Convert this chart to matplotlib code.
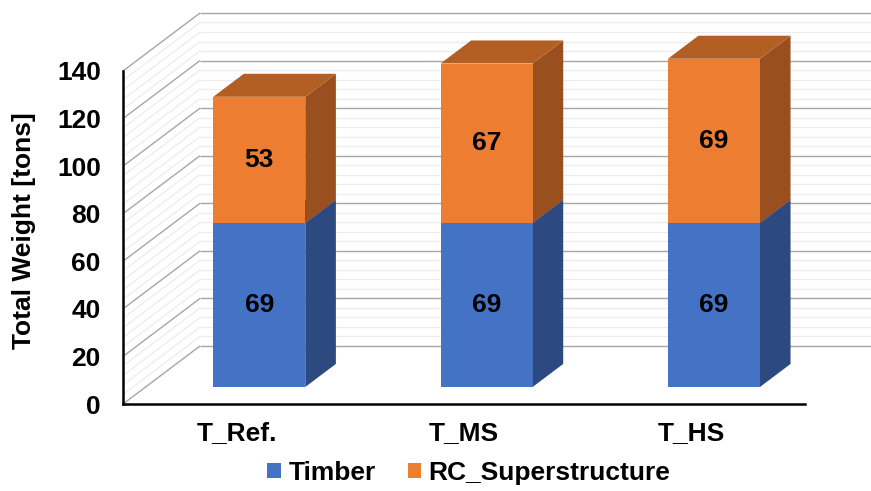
import matplotlib.pyplot as plt
from matplotlib.patches import Polygon, Patch

plt.rcParams['font.family'] = ['Liberation Sans', 'DejaVu Sans']
plt.rcParams['font.weight'] = 'bold'

# data
categories = ['T_Ref.', 'T_MS', 'T_HS']
timber = [69, 69, 69]
rc_super = [53, 67, 69]
series_names = ['Timber', 'RC_Superstructure']
y_ticks = [0, 20, 40, 60, 80, 100, 120, 140]

# colours (front, side, top)
blue = ('#4472C4', '#2C4A80', '#34589A')
orange = ('#ED7D31', '#9A4F1E', '#B35F24')

# oblique 3d look: full depth offset in data units
DX = 0.339   # category units
DY = 24.4    # value units
F0, F1 = 0.293, 0.69   # bar front/back depth fractions
BW = 0.405
YMAX = 140
FS = 19

fig = plt.figure(figsize=(8.71, 4.91), dpi=100)
ax = fig.add_axes([123 / 871, 87 / 491, 682 / 871, 333 / 491])
ax.set_xlim(0, 3)
ax.set_ylim(0, YMAX)


def line(xs, ys, **kw):
    ax.plot(xs, ys, clip_on=False, solid_capstyle='butt', **kw)


# walls: minor then major grid lines (side wall + back wall)
for v in range(0, YMAX + 1, 4):
    major = v in y_ticks
    col = '#A6A6A6' if major else '#ECECEC'
    lw = 1.0 if major else 0.9
    z = 2 if major else 1
    line([0, DX], [v, v + DY], color=col, lw=lw, zorder=z)
    line([DX, 3.3 + DX], [v + DY, v + DY], color=col, lw=lw, zorder=z)


def box(x, y0, y1, cols, z):
    xl = x - BW / 2 + F0 * DX
    xr = x + BW / 2 + F0 * DX
    b0 = y0 + F0 * DY
    t0 = y1 + F0 * DY
    ddx = (F1 - F0) * DX
    ddy = (F1 - F0) * DY
    front = [(xl, b0), (xr, b0), (xr, t0), (xl, t0)]
    side = [(xr, b0), (xr + ddx, b0 + ddy), (xr + ddx, t0 + ddy), (xr, t0)]
    top = [(xl, t0), (xr, t0), (xr + ddx, t0 + ddy), (xl + ddx, t0 + ddy)]
    for pts, c in ((side, cols[1]), (top, cols[2]), (front, cols[0])):
        ax.add_patch(Polygon(pts, closed=True, facecolor=c, edgecolor='none',
                             clip_on=False, zorder=z))


for i in range(len(categories)):
    x = i + 0.5
    box(x, 0, timber[i], blue, 5 + i * 2)
    box(x, timber[i], timber[i] + rc_super[i], orange, 6 + i * 2)
    ax.text(x + F0 * DX, timber[i] / 2 + F0 * DY, str(timber[i]),
            ha='center', va='center', fontsize=FS, fontweight='bold', zorder=20)
    ax.text(x + F0 * DX, timber[i] + rc_super[i] / 2 + F0 * DY, str(rc_super[i]),
            ha='center', va='center', fontsize=FS, fontweight='bold', zorder=20)

# axes
for s in ['top', 'right']:
    ax.spines[s].set_visible(False)
for s in ['left', 'bottom']:
    ax.spines[s].set_linewidth(1.8)
    ax.spines[s].set_color('black')
    ax.spines[s].set_zorder(30)
ax.patch.set_visible(False)
ax.set_yticks(y_ticks)
ax.set_yticklabels([str(t) for t in y_ticks], fontsize=FS, fontweight='bold')
ax.set_xticks([0.5, 1.5, 2.5])
ax.set_xticklabels(categories, fontsize=FS, fontweight='bold')
ax.tick_params(axis='y', length=0, pad=16)
ax.tick_params(axis='x', length=0, pad=12)
ax.set_ylabel('Total Weight [tons]', fontsize=FS, fontweight='bold')
ax.yaxis.set_label_coords(-0.127, 0.52)

handles = [Patch(facecolor=blue[0]), Patch(facecolor=orange[0])]
fig.legend(handles, series_names, loc='center', bbox_to_anchor=(469 / 871, 1 - 473 / 491),
           ncol=2, frameon=False, fontsize=FS, handlelength=0.5, handleheight=0.5,
           handletextpad=0.3, columnspacing=1.2, borderpad=0)

fig.savefig('out.png', dpi=100)
